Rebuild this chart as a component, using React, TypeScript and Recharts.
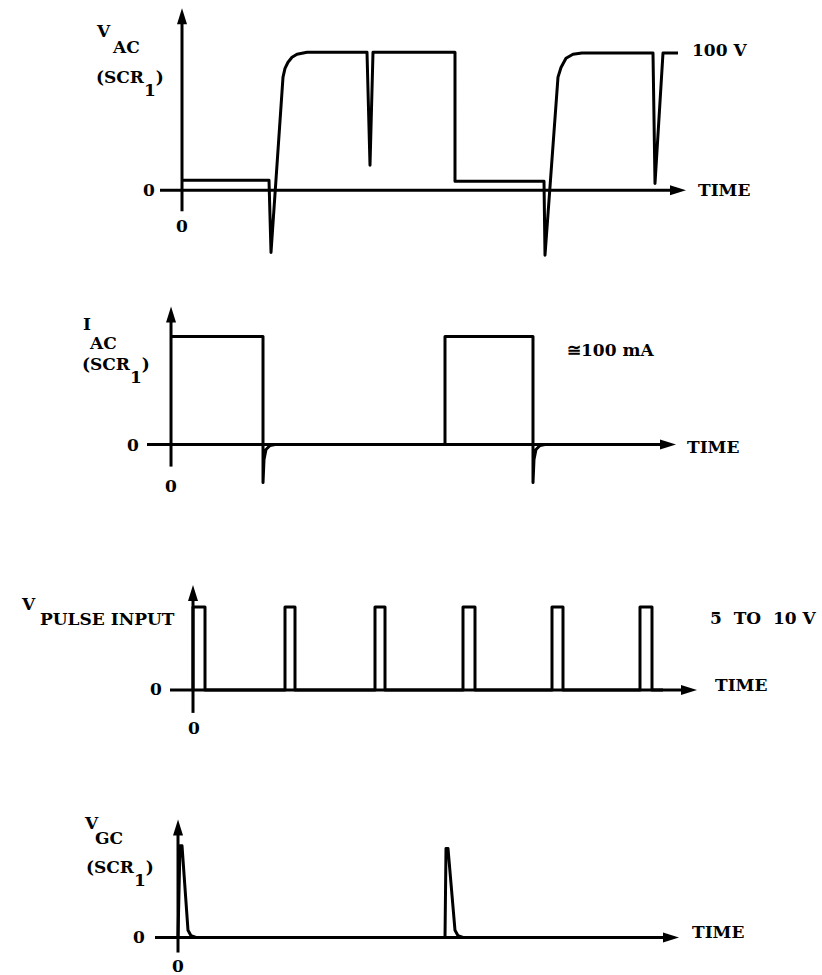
import React from "react";
import { LineChart, Line, XAxis, YAxis, ReferenceLine } from "recharts";

// ---------- Data (time units ~ horizontal position relative to each vertical axis) ----------
// Panel 1: V_AC (SCR1), volts
const vacTime = [0, 87, 89, 101, 103, 106, 110, 115, 125, 185, 188, 191, 273, 273, 362, 363, 376, 379, 384, 391, 400, 471, 473, 481, 496];
const vacVolts = [7.2, 7.2, -45, 82, 88.4, 92.8, 96.4, 98.6, 100, 100, 18.1, 100, 100, 6.5, 6.5, -47, 82, 89, 95.7, 98.6, 99.5, 99.5, 5, 99.5, 99.5];

// Panel 2: I_AC (SCR1), mA
const iacTime = [0, 92, 92, 93, 95, 99, 104, 274, 274, 362, 362, 363, 365, 369, 374, 430];
const iacMilliamps = [100, 100, -35.2, -13.9, -4.6, -0.9, 0, 0, 100, 100, -35.2, -13.9, -4.6, -0.9, 0, 0];

// Panel 3: V_PULSE INPUT, volts
const pulseTime = [0, 0, 12, 12, 92, 92, 102, 102, 182, 182, 192, 192, 270, 270, 282, 282, 359, 359, 370, 370, 447, 447, 459, 459, 470];
const pulseVolts = [0, 10, 10, 0, 0, 10, 10, 0, 0, 10, 10, 0, 0, 10, 10, 0, 0, 10, 10, 0, 0, 10, 10, 0, 0];

// Panel 4: V_GC (SCR1), volts
const vgcTime = [0, 2, 4, 10, 13, 18, 267, 268, 270, 277, 280, 285, 320];
const vgcVolts = [0, 10.2, 10.2, 0.8, 0.2, 0, 0, 9.9, 9.9, 0.8, 0.2, 0, 0];

// Axis extents [xStart, xEnd, yStart, yEnd]
const vacAxes = [-22, 504, -15.2, 131.9];
const iacAxes = [-24, 505, -20.4, 127.8];
const pulseAxes = [-23, 504, -2.77, 12.65];
const vgcAxes = [-23, 501, -1.67, 13.1];

// Labels: [text, x, y, anchor]
type Lbl = [string, number, number, string];
const labelsVac: Lbl[] = [
  ["V", 97, 31, "start"], ["AC", 113, 47, "start"],
  ["0", 143, 190, "start"], ["0", 182, 226, "middle"], ["100 V", 692, 50, "start"], ["TIME", 698, 190, "start"],
];
const labelsIac: Lbl[] = [
  ["I", 83, 324, "start"], ["AC", 90, 343, "start"],
  ["0", 127, 445, "start"], ["0", 171, 486, "middle"], ["≅100 mA", 567, 350, "start"], ["TIME", 687, 447, "start"],
];
const labelsPulse: Lbl[] = [
  ["V", 22, 604, "start"], ["PULSE INPUT", 40, 619, "start"], ["0", 150, 689, "start"], ["0", 194, 728, "middle"],
  ["5  TO  10 V", 710, 618, "start"], ["TIME", 715, 685, "start"],
];
const labelsVgc: Lbl[] = [
  ["V", 85, 823, "start"], ["GC", 95, 838, "start"],
  ["0", 133, 937, "start"], ["0", 178, 966, "middle"], ["TIME", 692, 932, "start"],
];
// "(SCR" + subscript "1" + ")" : [x, y]
const scrLabels: [number, number][] = [[96, 77], [82, 364], [86, 867]];

const FONT = "'DejaVu Serif', serif";
const FS = 17;
const W = 822;

const zip = (t: number[], v: number[]) => t.map((x, i) => ({ t: x, v: v[i] }));

const arrowShape = (dir: "right" | "up") => (p: any) => {
  const { x1, y1, x2, y2 } = p;
  const L = 16, H = 5;
  const pts = dir === "right"
    ? `${x2},${y2} ${x2 - L},${y2 - H} ${x2 - L},${y2 + H}`
    : `${x2},${y2} ${x2 - H},${y2 + L} ${x2 + H},${y2 + L}`;
  return (
    <g>
      <line x1={x1} y1={y1} x2={dir === "right" ? x2 - L + 2 : x2} y2={dir === "up" ? y2 + L - 2 : y2} stroke="#000" strokeWidth={3} />
      <polygon points={pts} fill="#000" />
    </g>
  );
};

type PanelProps = {
  data: { t: number; v: number }[];
  axisPx: number;
  zeroPx: number;
  k: number;
  yMin: number;
  yMax: number;
  axes: number[];
};

const Panel = ({ data, axisPx, zeroPx, k, yMin, yMax, axes }: PanelProps) => {
  const xMin = -30, xMax = 510;
  const left = axisPx + xMin;
  const right = W - (axisPx + xMax);
  const top = zeroPx - yMax * k;
  const height = (yMax - yMin) * k;
  return (
    <div style={{ position: "absolute", left: 0, top, width: W, height }}>
      <LineChart width={W} height={height} data={data} margin={{ top: 0, bottom: 0, left, right }}>
        <XAxis dataKey="t" type="number" domain={[xMin, xMax]} hide allowDataOverflow />
        <YAxis type="number" domain={[yMin, yMax]} hide allowDataOverflow />
        <ReferenceLine ifOverflow="visible" segment={[{ x: axes[0], y: 0 }, { x: axes[1], y: 0 }]} shape={arrowShape("right")} />
        <ReferenceLine ifOverflow="visible" segment={[{ x: 0, y: axes[2] }, { x: 0, y: axes[3] }]} shape={arrowShape("up")} />
        <Line dataKey="v" type="linear" stroke="#000" strokeWidth={3} dot={false} isAnimationActive={false} strokeLinejoin="round" />
      </LineChart>
    </div>
  );
};

const textProps = { fontFamily: FONT, fontWeight: "bold", fontSize: FS, fill: "#000", dominantBaseline: "central" as const };

const Labels = ({ items }: { items: Lbl[] }) => (
  <>
    {items.map(([s, x, y, a], i) => (
      <text key={i} x={x} y={y} textAnchor={a as any} {...textProps} style={{ whiteSpace: "pre" }}>
        {s}
      </text>
    ))}
  </>
);

export default function App() {
  return (
    <div style={{ position: "absolute", left: 0, top: 0, width: W, height: 975, background: "#fff", overflow: "hidden" }}>
      <Panel data={zip(vacTime, vacVolts)} axisPx={182} zeroPx={190} k={1.38} yMin={-50} yMax={135} axes={vacAxes} />
      <Panel data={zip(iacTime, iacMilliamps)} axisPx={171} zeroPx={445} k={1.08} yMin={-40} yMax={132} axes={iacAxes} />
      <Panel data={zip(pulseTime, pulseVolts)} axisPx={193} zeroPx={690} k={8.3} yMin={-3} yMax={13} axes={pulseAxes} />
      <Panel data={zip(vgcTime, vgcVolts)} axisPx={178} zeroPx={937} k={9} yMin={-2} yMax={13.5} axes={vgcAxes} />
      <svg width={W} height={975} style={{ position: "absolute", left: 0, top: 0, pointerEvents: "none" }}>
        <Labels items={labelsVac} />
        <Labels items={labelsIac} />
        <Labels items={labelsPulse} />
        <Labels items={labelsVgc} />
        {scrLabels.map(([x, y], i) => (
          <text key={"scr" + i} x={x} y={y} {...textProps}>
            <tspan>(SCR</tspan>
            <tspan dy={13}>1</tspan>
            <tspan dy={-13}>)</tspan>
          </text>
        ))}
      </svg>
    </div>
  );
}
